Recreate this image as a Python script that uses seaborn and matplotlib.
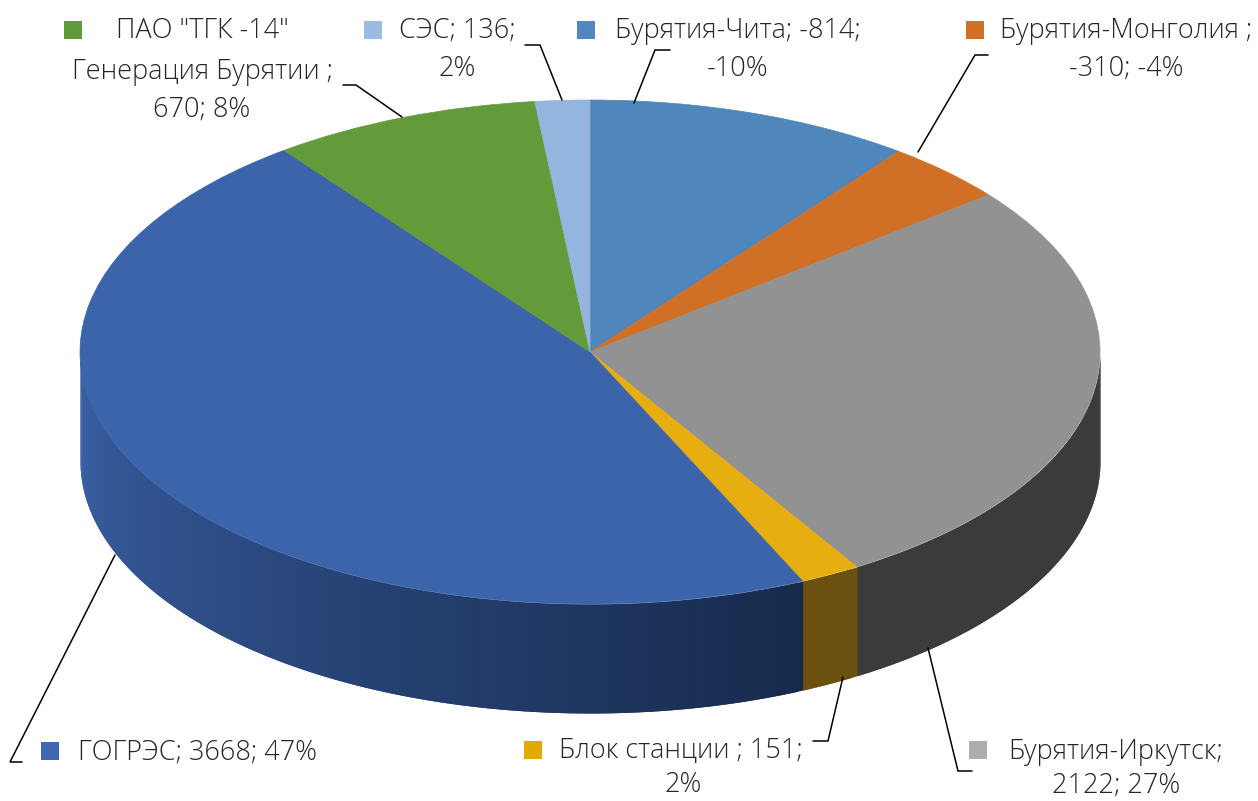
import numpy as np
import matplotlib
matplotlib.use("Agg")
import matplotlib.pyplot as plt
import seaborn as sns

# Data
names = ["Бурятия-Чита", "Бурятия-Монголия", "Бурятия-Иркутск", "Блок станции",
         "ГОГРЭС", "Генерация Бурятии", "СЭС"]
values = [-814, -310, 2122, 151, 3668, 670, 136]

top_colors = ["#4f86bb", "#d07026", "#929292", "#e6ae10", "#3b64ab", "#639a3a", "#93b5de"]
wall_left = ["#35587d", "#8a4a19", "#3b3b3b", "#6b5010", "#3a61a6", "#42662a", "#62799a"]
wall_right = ["#35587d", "#8a4a19", "#3b3b3b", "#6b5010", "#172a4c", "#42662a", "#62799a"]

sns.set_theme(style="white")
plt.rcParams["font.family"] = ["Open Sans", "DejaVu Sans"]

W, H = 1258, 801
fig = plt.figure(figsize=(W / 100, H / 100), dpi=100)

# Pie axes: one unit is the ellipse radius
cx, cy, rx, ry = 590, 352, 510, 252
depth = 109 / ry
ax = fig.add_axes([0, 0, 1, 1])
sizes = np.abs(values)
wedges, _ = ax.pie(sizes, colors=top_colors, startangle=90, counterclock=False)
for w in wedges:
    w.set_edgecolor(w.get_facecolor())
    w.set_linewidth(0.5)
    w.set_zorder(5)
ax.set_aspect("auto")
ax.set_xlim(-cx / rx, (W - cx) / rx)
ax.set_ylim(-(H - cy) / ry, cy / ry)
ax.axis("off")

# Side wall, only the front half of the disc shows
edges = np.concatenate([[0], np.cumsum(sizes)]) / sizes.sum() * 360
for i in range(len(values)):
    start, end = max(edges[i], 90), min(edges[i + 1], 270)
    if end <= start:
        continue
    n = max(int((end - start) * 1.5), 2)
    shades = sns.blend_palette([wall_right[i], wall_left[i]], n)
    t = np.radians(np.linspace(start, end, n + 1))
    # each strip runs on to the far end so the next one paints over it, no seams
    for k in range(n):
        tt = np.linspace(t[k], t[min(k + 2, n)], 5)
        ax.fill_between(np.sin(tt), np.cos(tt), np.cos(tt) - depth,
                        color=shades[k], linewidth=0, zorder=2)

# Overlay axes in picture pixels for labels, keys and leader lines
ov = fig.add_axes([0, 0, 1, 1], facecolor="none")
ov.set_xlim(0, W)
ov.set_ylim(H, 0)
ov.axis("off")

key_x = [586, 975, 978, 533, 50, 73, 373]
key_y = [30, 30, 750, 750, 751, 30, 30]
key_colors = ["#5288bf", "#d56f26", "#adadad", "#e3a900", "#3f68b0", "#619a3a", "#9abce3"]
ov.scatter(key_x, key_y, marker="s", s=165, c=key_colors, linewidths=0)

text_color = "#262626"
label_text = ["Бурятия-Чита; -814;", "-10%",
              "Бурятия-Монголия ;", "-310; -4%",
              "Бурятия-Иркутск;", "2122; 27%",
              "Блок станции ; 151;", "2%",
              "ГОГРЭС; 3668; 47%",
              "ПАО \"ТГК -14\"", "Генерация Бурятии ;", "670; 8%",
              "СЭС; 136;", "2%"]
label_x = [738, 738, 1126, 1126, 1116, 1116, 681, 683, 197, 202, 202, 202, 457, 457]
label_y = [31, 69, 31, 69, 752, 786, 751, 785, 753, 31, 72, 110, 31, 69]
for s, x, y in zip(label_text, label_x, label_y):
    ov.text(x, y, s, ha="center", va="center", fontsize=19.5, fontweight="light",
            color=text_color)

leaders = [
    ([670, 655, 634], [50, 50, 103]),
    ([988, 975, 918], [55, 55, 152]),
    ([972, 958, 928], [771, 771, 648]),
    ([813, 828, 843], [741, 741, 677]),
    ([22, 10, 115], [762, 762, 555]),
    ([343, 356, 402], [85, 85, 117]),
    ([525, 540, 562], [45, 45, 100]),
]
for xs, ys in leaders:
    ov.plot(xs, ys, color="black", linewidth=1.1, solid_joinstyle="miter")

fig.savefig("out.png", dpi=100)
